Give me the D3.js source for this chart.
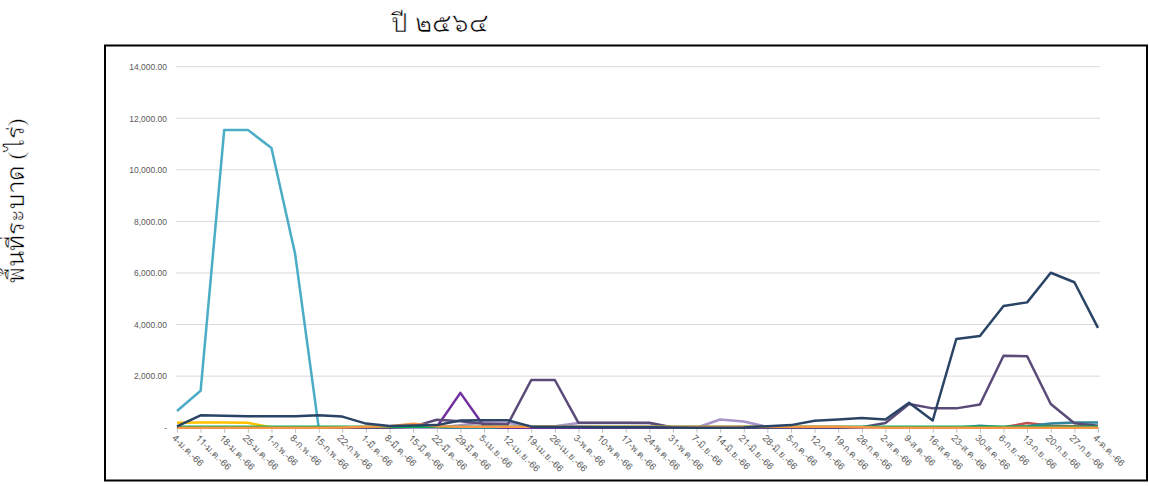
<!DOCTYPE html>
<html>
<head>
<meta charset="utf-8">
<script src="https://cdn.jsdelivr.net/npm/d3@7"></script>
<style>
  body { margin: 0; background: #fff; }
  svg { display: block; }
</style>
</head>
<body>
<script>
const width = 1149;
const height = 486;

const weeks = [
  "4-ม.ค.-66", "11-ม.ค.-66", "18-ม.ค.-66", "25-ม.ค.-66", "1-ก.พ.-66", "8-ก.พ.-66",
  "15-ก.พ.-66", "22-ก.พ.-66", "1-มี.ค.-66", "8-มี.ค.-66", "15-มี.ค.-66", "22-มี.ค.-66",
  "29-มี.ค.-66", "5-เม.ย.-66", "12-เม.ย.-66", "19-เม.ย.-66", "26-เม.ย.-66", "3-พ.ค.-66",
  "10-พ.ค.-66", "17-พ.ค.-66", "24-พ.ค.-66", "31-พ.ค.-66", "7-มิ.ย.-66", "14-มิ.ย.-66",
  "21-มิ.ย.-66", "28-มิ.ย.-66", "5-ก.ค.-66", "12-ก.ค.-66", "19-ก.ค.-66", "26-ก.ค.-66",
  "2-ส.ค.-66", "9-ส.ค.-66", "16-ส.ค.-66", "23-ส.ค.-66", "30-ส.ค.-66", "6-ก.ย.-66",
  "13-ก.ย.-66", "20-ก.ย.-66", "27-ก.ย.-66", "4-ต.ค.-66"
];

const yTicks = [0, 2000, 4000, 6000, 8000, 10000, 12000, 14000];

// one array per line, 40 weekly values each
const lightBlue = [
  650, 1430, 11550, 11550, 10850, 6750, 0, 0, 0, 0, 0, 0, 0, 0, 0, 0, 0, 0, 0, 0,
  0, 0, 0, 0, 0, 0, 0, 0, 0, 0, 0, 0, 0, 0, 0, 0, 0, 0, 0, 0
];
const red = [
  0, 0, 0, 0, 0, 0, 0, 0, 0, 0, 0, 0, 0, 0, 0, 0, 0, 0, 0, 0,
  0, 0, 0, 0, 0, 0, 0, 0, 0, 0, 0, 0, 0, 0, 0, 20, 180, 80, 60, 60
];
const yellow = [
  190, 200, 200, 190, 10, 0, 0, 0, 0, 0, 0, 0, 0, 0, 0, 0, 0, 0, 0, 0,
  0, 0, 0, 0, 0, 0, 0, 0, 0, 0, 0, 0, 0, 0, 0, 0, 0, 0, 0, 0
];
const green = [
  40, 40, 40, 40, 40, 40, 40, 40, 40, 40, 40, 40, 40, 40, 40, 40, 40, 40, 40, 40,
  40, 40, 40, 40, 40, 40, 40, 40, 40, 40, 40, 40, 40, 40, 40, 40, 40, 40, 40, 40
];
const orange = [
  0, 0, 0, 0, 0, 0, 0, 10, 40, 60, 150, 60, 40, 40, 40, 40, 40, 40, 40, 40,
  40, 40, 40, 40, 40, 40, 40, 40, 40, 20, 0, 0, 0, 0, 0, 0, 0, 0, 0, 0
];
const teal = [
  0, 0, 0, 0, 0, 0, 0, 0, 0, 0, 0, 0, 0, 0, 0, 0, 0, 0, 0, 0,
  0, 0, 0, 0, 0, 0, 0, 0, 0, 0, 0, 0, 0, 0, 80, 20, 60, 160, 200, 200
];
const lightPurple = [
  0, 0, 0, 0, 0, 0, 0, 0, 0, 0, 0, 0, 100, 200, 180, 60, 60, 180, 180, 180,
  170, 0, 0, 320, 240, 30, 0, 0, 0, 0, 0, 0, 0, 0, 0, 0, 0, 0, 0, 0
];
const purple = [
  0, 0, 0, 0, 0, 0, 0, 0, 0, 0, 0, 30, 1350, 60, 0, 0, 0, 0, 0, 0,
  0, 0, 0, 0, 0, 0, 0, 0, 0, 0, 0, 0, 0, 0, 0, 0, 0, 0, 0, 0
];
const darkPurple = [
  0, 0, 0, 0, 0, 0, 0, 0, 0, 0, 40, 310, 250, 150, 120, 1850, 1850, 190, 190, 190,
  190, 10, 0, 0, 0, 0, 0, 0, 0, 20, 180, 920, 750, 750, 900, 2790, 2770, 920, 170, 80
];
const navy = [
  50, 480, 460, 440, 440, 440, 480, 430, 160, 70, 90, 100, 280, 290, 290, 40, 30, 30, 20, 20,
  20, 10, 0, 0, 10, 60, 100, 270, 320, 380, 320, 970, 280, 3440, 3560, 4720, 4860, 6010, 5640, 3870
];

// drawn in this order, later ones on top
const series = [
  { values: lightBlue, color: "#4bacc6" },
  { values: yellow, color: "#ffc000" },
  { values: red, color: "#c0504d" },
  { values: teal, color: "#31859c" },
  { values: purple, color: "#7030a0" },
  { values: lightPurple, color: "#a894c8" },
  { values: darkPurple, color: "#5a4a78" },
  { values: green, color: "#00b050" },
  { values: orange, color: "#f79646" },
  { values: navy, color: "#2a4466" }
];

const thaiFont = "Norasi, Kinnari, Garuda, 'TH Sarabun New', serif";
const labelFont = "Garuda, Loma, 'Noto Sans', sans-serif";

const x = d3.scalePoint().domain(weeks).range([177, 1098]);
const y = d3.scaleLinear().domain([0, 14000]).range([427.7, 66.7]);

const svg = d3.select("body")
  .append("svg")
  .attr("width", width)
  .attr("height", height);

// outer frame
svg.append("rect")
  .attr("x", 105)
  .attr("y", 45.5)
  .attr("width", 1042)
  .attr("height", 435)
  .attr("fill", "none")
  .attr("stroke", "#000")
  .attr("stroke-width", 2);

// title (thin white stroke lightens the heavy fallback Thai face a bit)
svg.append("text")
  .attr("x", 440)
  .attr("y", 32)
  .attr("text-anchor", "middle")
  .attr("font-family", thaiFont)
  .attr("font-size", 26)
  .attr("fill", "#000")
  .attr("stroke", "#fff")
  .attr("stroke-width", 0.6)
  .text("ปี ๒๕๖๔");

// y axis title
svg.append("text")
  .attr("transform", "translate(24,201) rotate(-90)")
  .attr("text-anchor", "middle")
  .attr("font-family", thaiFont)
  .attr("font-size", 24)
  .attr("fill", "#000")
  .attr("stroke", "#fff")
  .attr("stroke-width", 0.5)
  .text("พื้นที่ระบาด (ไร่)");

// gridlines
svg.append("g")
  .selectAll("line")
  .data(yTicks.filter(d => d > 0))
  .join("line")
  .attr("x1", 176)
  .attr("x2", 1100)
  .attr("y1", d => y(d))
  .attr("y2", d => y(d))
  .attr("stroke", "#d9d9d9")
  .attr("stroke-width", 1);

// y axis labels
const yAxis = svg.append("g")
  .attr("transform", "translate(176,0)")
  .call(d3.axisLeft(y)
    .tickValues(yTicks)
    .tickSize(0)
    .tickPadding(9)
    .tickFormat(d => d === 0 ? "-" : d3.format(",.2f")(d)));
yAxis.select(".domain").remove();
yAxis.selectAll("text")
  .attr("font-family", "Liberation Sans, Arial, sans-serif")
  .attr("font-size", 8.5)
  .attr("fill", "#595959");

// x axis
const xAxis = svg.append("g")
  .attr("transform", `translate(0,${y(0)})`)
  .call(d3.axisBottom(x).tickSize(5).tickPadding(3));
xAxis.select(".domain")
  .attr("d", `M176,0H1100`)
  .attr("stroke", "#d9d9d9");
xAxis.selectAll(".tick line").attr("stroke", "#bfbfbf");
xAxis.selectAll("text")
  .attr("font-family", labelFont)
  .attr("font-size", 9.5)
  .attr("fill", "#666")
  .attr("text-anchor", "start")
  .attr("dy", "0.35em")
  .attr("transform", "translate(2,3) rotate(45)");

// lines
const line = d3.line()
  .x((d, i) => x(weeks[i]))
  .y(d => y(d));

svg.append("g")
  .selectAll("path")
  .data(series)
  .join("path")
  .attr("d", d => line(d.values))
  .attr("fill", "none")
  .attr("stroke", d => d.color)
  .attr("stroke-width", 2.5)
  .attr("stroke-linejoin", "round");
</script>
</body>
</html>
